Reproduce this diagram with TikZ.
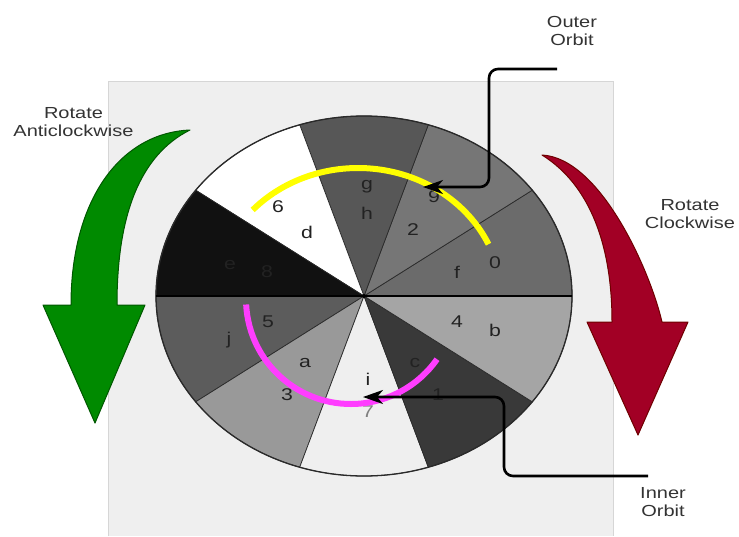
\documentclass[tikz,border=0pt]{standalone}
\usepackage{fontspec}
\setmainfont{Liberation Sans}
\newfontfamily\lblfont[FakeStretch=1.25]{Liberation Sans}
\usetikzlibrary{arrows.meta}
\definecolor{bgrect}{HTML}{EFEFEF}
\definecolor{rectline}{HTML}{D6D6D6}
\definecolor{sA}{HTML}{6B6B6B}
\definecolor{sB}{HTML}{767676}
\definecolor{sC}{HTML}{575757}
\definecolor{sD}{HTML}{FFFFFF}
\definecolor{sE}{HTML}{111111}
\definecolor{sF}{HTML}{5C5C5C}
\definecolor{sG}{HTML}{999999}
\definecolor{sH}{HTML}{EFEFEF}
\definecolor{sI}{HTML}{393939}
\definecolor{sJ}{HTML}{A5A5A5}
\definecolor{sectline}{HTML}{2A2A2A}
\definecolor{lbltext}{HTML}{222222}
\definecolor{sidetext}{HTML}{333333}
\definecolor{orbY}{HTML}{FFFF00}
\definecolor{orbM}{HTML}{FF3DFF}
\definecolor{grfill}{HTML}{008A00}
\definecolor{grline}{HTML}{005700}
\definecolor{rdfill}{HTML}{A20025}
\definecolor{rdline}{HTML}{6F0000}
\tikzset{
  seclabel/.style={inner sep=0pt, text=lbltext, font=\lblfont\fontsize{17}{19}\selectfont},
  sidelabel/.style={inner sep=0pt, align=center, text=sidetext, font=\lblfont\fontsize{16}{18}\selectfont},
  sector/.style={draw=sectline, line width=0.7pt},
  pointer/.style={draw=black, line width=2.6pt, rounded corners=9pt, -{Stealth[length=20pt, width=14pt, inset=6pt]}},
  orbit/.style={line width=6pt},
  bigarrow/.style={line width=1pt, line join=round}
}
\begin{document}
\begin{tikzpicture}[x=1pt,y=-1pt]
\useasboundingbox (0,0) rectangle (739,536);
\fill[white] (0,0) rectangle (739,536);
% grey panel
\fill[bgrect] (108,81) rectangle (613,536);
\draw[rectline, line width=0.8pt] (108,536) -- (108,81) -- (613,81) -- (613,536);

% pie
\coordinate (C) at (364,296);
\foreach \a/\b/\col in {0/36/sA, 36/72/sB, 72/108/sC, 108/144/sD, 144/180/sE,
                        180/216/sF, 216/252/sG, 252/288/sH, 288/324/sI, 324/360/sJ}{
  \filldraw[sector, fill=\col] (C) -- ++(-\a:208 and 180)
    arc[start angle=-\a, end angle=-\b, x radius=208, y radius=180] -- cycle;
}
\draw[draw=sectline, line width=1.3pt] (C) ellipse [x radius=208, y radius=180];
\draw[black, line width=1.6pt] (C) ++(-208,0) -- ++(416,0);
\fill[black] (C) circle (2pt);

% sector labels
\node[seclabel] (l0) at (495,263) {0};
\node[seclabel] (lf) at (457,272) {f};
\node[seclabel] (l9) at (434,197) {9};
\node[seclabel] (l2) at (413,230) {2};
\node[seclabel] (lg) at (367,187) {g};
\node[seclabel] (lh) at (367,213) {h};
\node[seclabel] (l6) at (278,207) {6};
\node[seclabel] (ld) at (307,232) {d};
\node[seclabel] (le) at (230,265) {e};
\node[seclabel] (l8) at (267,272) {8};
\node[seclabel] (l5) at (268,322) {5};
\node[seclabel] (lj) at (229,340) {j};
\node[seclabel] (la) at (305,363) {a};
\node[seclabel] (l3) at (287,395) {3};
\node[seclabel] (li) at (368,379) {i};
\node[seclabel, text=gray] (l7) at (368,412) {7};
\node[seclabel] (l4) at (457,322) {4};
\node[seclabel] (lb) at (495,330) {b};
\node[seclabel] (lc) at (415,363) {c};
\node[seclabel] (l1) at (438,395) {1};

% orbits
\coordinate (yc) at (358,300);
\draw[orbit, orbY] (yc) ++(-137:144 and 132) arc[start angle=-137, end angle=-25, x radius=144, y radius=132];
\coordinate (mc) at (351,299);
\draw[orbit, orbM] (mc) ++(-183:105 and 105) arc[start angle=-183, end angle=-325, x radius=105, y radius=105];

% side labels
\node[sidelabel] (tacw) at (73.5,122) {Rotate\\Anticlockwise};
\node[sidelabel] (tcw) at (690,214) {Rotate\\Clockwise};
\node[sidelabel] (touter) at (572,31) {Outer\\Orbit};
\node[sidelabel] (tinner) at (663,502) {Inner\\Orbit};

% pointers
\coordinate (os) at (557,69);
\coordinate (ot) at (423,187);
\coordinate (is) at (648,476);
\coordinate (it) at (363,397);
\draw[pointer] (os) -| (489,187) -- (ot);
\draw[pointer] (is) -| (504,397) -- (it);

% big curved arrows
\filldraw[bigarrow, fill=grfill, draw=grline]
  (190,130) .. controls (120,133) and (71,200) .. (71,305)
  -- (43,305) -- (95,423) -- (145,305) -- (117,305)
  .. controls (117,215) and (140,155) .. (190,130) -- cycle;
\filldraw[bigarrow, fill=rdfill, draw=rdline]
  (542,155) .. controls (600,158) and (650,270) .. (662,322)
  -- (688,322) -- (638,435) -- (587,322) -- (612,322)
  .. controls (612,245) and (590,185) .. (542,155) -- cycle;
\end{tikzpicture}
\end{document}
